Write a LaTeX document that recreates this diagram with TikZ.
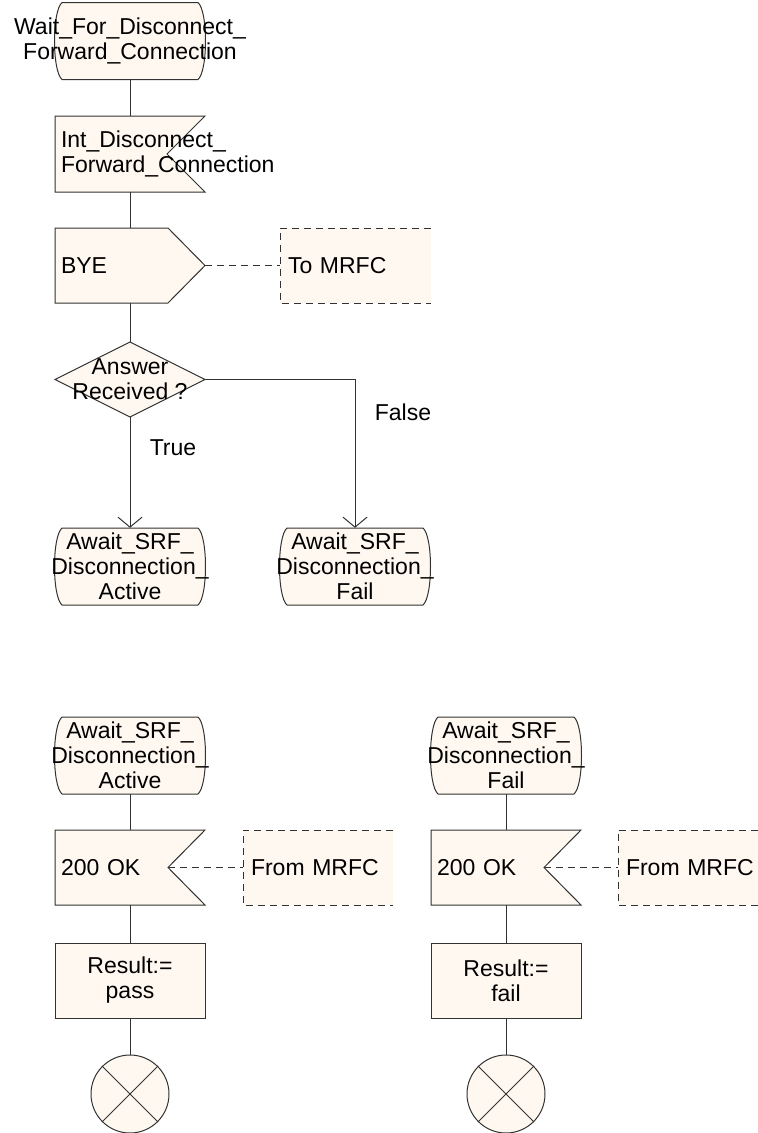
\documentclass[tikz,border=0pt]{standalone}
\usepackage{fontspec}
\setmainfont{Liberation Sans}
\usetikzlibrary{arrows.meta}
\definecolor{fc}{RGB}{255,248,240}
\definecolor{lc}{RGB}{50,50,50}
\newcommand\stateline[2]{%
 \draw[ln,fl] (#1-68,#2-38.5) -- (#1+68,#2-38.5) .. controls (#1+78,#2-30) and (#1+78,#2+30) .. (#1+68,#2+38.5) -- (#1-68,#2+38.5) .. controls (#1-78,#2+30) and (#1-78,#2-30) .. (#1-68,#2-38.5) -- cycle;}
\tikzset{
 every node/.style={font=\fontsize{23}{25}\selectfont, inner sep=0pt, text=black},
 ln/.style={draw=lc, line width=1pt},
 fl/.style={fill=fc},
 dsh/.style={draw=lc, line width=1pt, dash pattern=on 7pt off 5pt},
 stbox/.style={minimum width=152pt, minimum height=77pt, align=center},
 iobox/.style={minimum width=150pt, minimum height=75pt, text width=138pt, inner xsep=6pt, align=left},
 dbox/.style={minimum width=151pt, minimum height=75pt, text width=135pt, inner xsep=8pt, align=left},
 tbox/.style={minimum width=150pt, minimum height=75pt, align=center},
 endc/.style={circle, ln, fl, minimum size=78pt},
 arr/.style={ln, -{Straight Barb[length=10pt,width=24pt]}},
 lbl/.style={anchor=center}
}
\begin{document}
\begin{tikzpicture}[x=1pt,y=-1pt]
\useasboundingbox (0,0) rectangle (758,1133);
% ---------- outlines ----------
\stateline{130}{41}
\draw[ln,fl] (55,116) -- (205,116) -- (167,154) -- (205,192) -- (55,192) -- cycle;
\draw[ln,fl] (55,228) -- (168,228) -- (205,265.5) -- (168,303) -- (55,303) -- cycle;
\fill[fc] (280,228) rectangle (431,303);
\draw[dsh] (431,228) -- (280,228) -- (280,303) -- (431,303);
\draw[ln,fl] (130,342) -- (205,379.5) -- (130,417) -- (55,379.5) -- cycle;
\stateline{130}{566.5}
\stateline{355}{566.5}
\stateline{130}{755.5}
\stateline{506}{755.5}
\draw[ln,fl] (55,830) -- (205,830) -- (168,867.5) -- (205,905) -- (55,905) -- cycle;
\draw[ln,fl] (431,830) -- (581,830) -- (544,867.5) -- (581,905) -- (431,905) -- cycle;
\fill[fc] (243,830) rectangle (393,905);
\draw[dsh] (393,830) -- (243,830) -- (243,905) -- (393,905);
\fill[fc] (618,830) rectangle (770,905);
\draw[dsh] (770,830) -- (618,830) -- (618,905) -- (770,905);
\draw[ln,fl] (55,943) rectangle (205,1018);
\draw[ln,fl] (431,943) rectangle (581,1018);
% ---------- nodes ----------
\node[stbox] (s0) at (130,41) {Wait\_For\_Disconnect\_\\Forward\_Connection};
\node[iobox] (i1) at (130,154) {\mbox{Int\_Disconnect\_}\\\mbox{Forward\_Connection}};
\node[iobox] (o1) at (130,265.5) {BYE};
\node[dbox] (d1) at (355.5,265.5) {To MRFC};
\node[tbox] (dia) at (130,379.5) {Answer\\Received ?};
\node[lbl] (ltrue) at (173,448) {True};
\node[lbl] (lfalse) at (403,412) {False};
\node[stbox] (a1) at (130,566.5) {Await\_SRF\_\\Disconnection\_\\Active};
\node[stbox] (a2) at (355,566.5) {Await\_SRF\_\\Disconnection\_\\Fail};
\node[stbox] (a3) at (130,755.5) {Await\_SRF\_\\Disconnection\_\\Active};
\node[stbox] (a4) at (506,755.5) {Await\_SRF\_\\Disconnection\_\\Fail};
\node[iobox] (i2) at (130,867.5) {200 OK};
\node[iobox] (i3) at (506,867.5) {200 OK};
\coordinate (i2n) at (168,867.5);
\coordinate (i3n) at (544,867.5);
\node[dbox, minimum width=150pt, text width=134pt] (d2) at (318,867.5) {From MRFC};
\node[dbox, minimum width=152pt, text width=136pt] (d3) at (694,867.5) {From MRFC};
\node[tbox] (t1) at (130,980.5) {Result:=\\pass};
\node[tbox] (t2) at (506,980.5) {Result:=\\fail};
\node[endc] (c1) at (130,1094) {};
\node[endc] (c2) at (506,1094) {};
\draw[ln] (c1.north west) -- (c1.south east) (c1.north east) -- (c1.south west);
\draw[ln] (c2.north west) -- (c2.south east) (c2.north east) -- (c2.south west);
% ---------- connectors ----------
\draw[ln] (s0.south) -- (i1.north);
\draw[ln] (i1.south) -- (o1.north);
\draw[dsh] (o1.east) -- (d1.west);
\draw[ln] (o1.south) -- (dia.north);
\draw[arr] (dia.south) -- (a1.north);
\draw[arr] (dia.east) -| (a2.north);
\draw[ln] (a3.south) -- (i2.north);
\draw[ln] (a4.south) -- (i3.north);
\draw[dsh] (i2n) -- (d2.west);
\draw[dsh] (i3n) -- (d3.west);
\draw[ln] (i2.south) -- (t1.north);
\draw[ln] (i3.south) -- (t2.north);
\draw[ln] (t1.south) -- (c1.north);
\draw[ln] (t2.south) -- (c2.north);
\end{tikzpicture}
\end{document}
